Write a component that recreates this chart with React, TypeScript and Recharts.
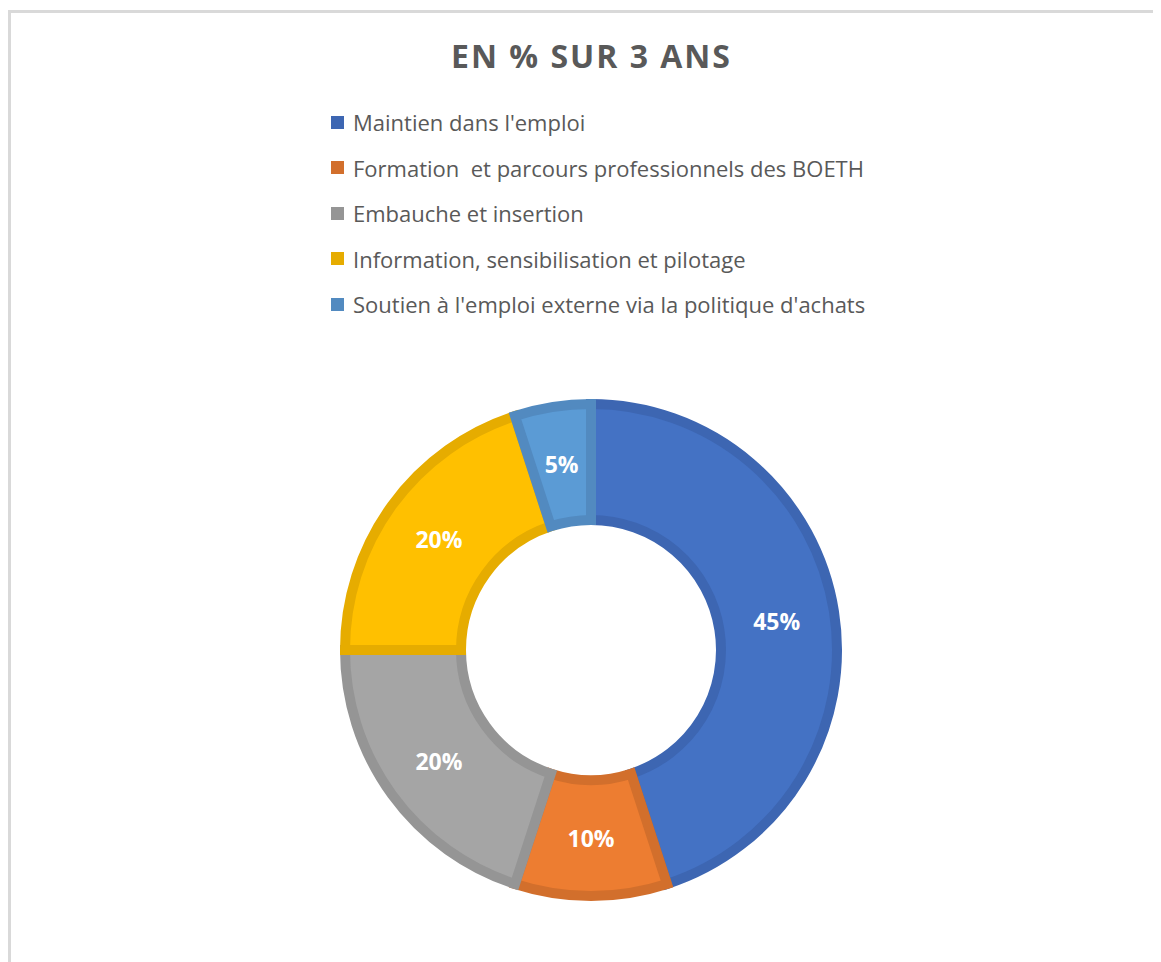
import { Pie, PieChart } from "recharts";

const categories = [
  "Maintien dans l'emploi",
  "Formation  et parcours professionnels des BOETH",
  "Embauche et insertion",
  "Information, sensibilisation et pilotage",
  "Soutien à l'emploi externe via la politique d'achats",
];
const shares = [45, 10, 20, 20, 5];
const fills = ["#4472C4", "#ED7D31", "#A5A5A5", "#FFC000", "#5B9BD5"];
const strokes = ["#3D66B2", "#D26F2C", "#959595", "#E6AC00", "#528AC0"];

const data = categories.map((name, i) => ({ name, value: shares[i], fill: fills[i], stroke: strokes[i] }));

const RADIAN = Math.PI / 180;

function renderLabel(props: any) {
  const { cx, cy, midAngle, innerRadius, outerRadius, value } = props;
  const r = (innerRadius + outerRadius) / 2;
  const x = cx + r * Math.cos(-midAngle * RADIAN);
  const y = cy + r * Math.sin(-midAngle * RADIAN);
  return (
    <text x={x} y={y} fill="#fff" textAnchor="middle" dominantBaseline="central" fontSize={23} fontWeight={700} fontFamily="Open Sans">
      {`${value}%`}
    </text>
  );
}

function ChartLegend() {
  return (
    <div style={{ position: "absolute", left: 320, top: 86.5, fontFamily: "Open Sans", fontSize: 22, color: "#595959" }}>
      {categories.map((name, i) => (
        <div key={name} style={{ display: "flex", alignItems: "center", height: 45.5, whiteSpace: "pre" }}>
          <span style={{ width: 13, height: 13, background: strokes[i], marginRight: 9, display: "inline-block" }} />
          <span>{name}</span>
        </div>
      ))}
    </div>
  );
}

export default function App() {
  return (
    <div
      style={{
        position: "relative",
        marginTop: 2,
        width: 1160,
        height: 960,
        borderTop: "3px solid #D9D9D9",
        borderLeft: "3px solid #D9D9D9",
        background: "#fff",
        overflow: "hidden",
      }}
    >
      <div
        style={{
          position: "absolute",
          left: 0,
          width: 1160,
          top: 27,
          lineHeight: "32px",
          fontFamily: "Open Sans",
          fontWeight: 700,
          fontSize: 32,
          letterSpacing: 2,
          color: "#595959",
        }}
      >
        <span style={{ position: "absolute", left: 440 }}>EN % SUR 3 ANS</span>
      </div>
      <ChartLegend />
      <PieChart width={1150} height={945}>
        <Pie
          data={data}
          dataKey="value"
          nameKey="name"
          cx={575}
          cy={632}
          innerRadius={130}
          outerRadius={246}
          startAngle={90}
          endAngle={-270}
          strokeWidth={10}
          label={renderLabel}
          labelLine={false}
          isAnimationActive={false}
        />
      </PieChart>
    </div>
  );
}
